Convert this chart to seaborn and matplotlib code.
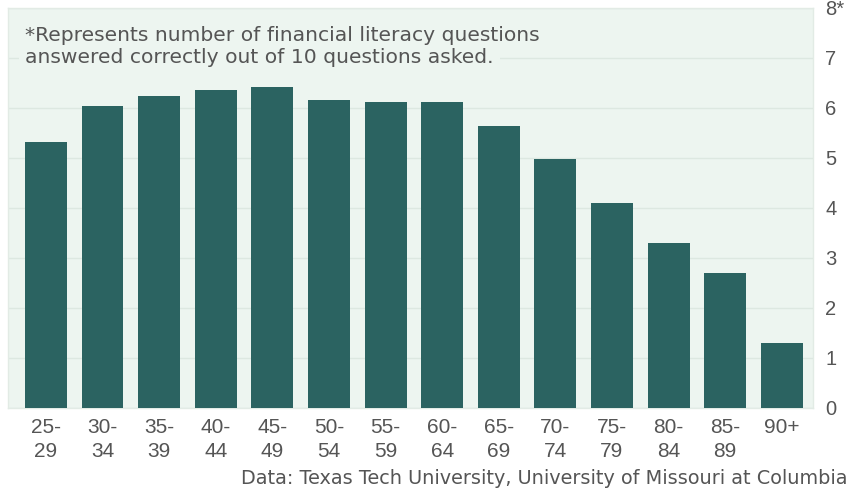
import matplotlib
matplotlib.use('Agg')
import matplotlib.pyplot as plt
import seaborn as sns
import pandas as pd

sns.set_style('white')
plt.rcParams['font.family'] = ['DejaVu Sans']

age_groups = ['25-\n29', '30-\n34', '35-\n39', '40-\n44', '45-\n49', '50-\n54', '55-\n59',
              '60-\n64', '65-\n69', '70-\n74', '75-\n79', '80-\n84', '85-\n89', '90+']
scores = [5.32, 6.04, 6.24, 6.36, 6.42, 6.16, 6.12, 6.12, 5.64, 4.98, 4.1, 3.3, 2.7, 1.3]
y_ticks = [0, 1, 2, 3, 4, 5, 6, 7, 8]
y_labels = ['0', '1', '2', '3', '4', '5', '6', '7', '8*']
note_lines = ['*Represents number of financial literacy questions',
              'answered correctly out of 10 questions asked.']

df = pd.DataFrame({'age': age_groups, 'score': scores})

BAR = '#2b6361'
PANEL = '#edf5f0'
GRID = '#dde8e1'
TXT = '#555555'

fig = plt.figure(figsize=(8.5, 4.88), dpi=100)
ax = fig.add_axes([0.0094, 0.164, 0.947, 0.8197])
ax.set_facecolor(PANEL)

sns.barplot(data=df, x='age', y='score', color=BAR, width=0.74, saturation=1,
            linewidth=0, ax=ax, zorder=3)

ax.set_ylim(0, 8)
ax.set_xlim(-0.67, 13.55)
ax.set_yticks(y_ticks)
ax.set_yticklabels(y_labels)
ax.yaxis.tick_right()
ax.grid(axis='y', color=GRID, linewidth=1, zorder=0)
ax.set_axisbelow(True)
ax.tick_params(axis='y', length=0, pad=9, labelsize=14.5, labelcolor=TXT)
ax.tick_params(axis='x', length=0, pad=7, labelsize=15, labelcolor=TXT)
for lab in ax.get_xticklabels() + ax.get_yticklabels():
    lab.set_family('Liberation Sans')
    lab.set_linespacing(1.38)
ax.set_xlabel('')
ax.set_ylabel('')
for s in ax.spines.values():
    s.set_color('#e2ebe5')
    s.set_linewidth(1)

# first line sits above the grid; second line masks the "7" gridline under itself
ax.text(17 / 805, (400 - 33) / 400, note_lines[0], transform=ax.transAxes,
        ha='left', va='baseline', fontsize=14.6, color=TXT, zorder=7)
ax.text(17 / 805, (400 - 55) / 400, note_lines[1], transform=ax.transAxes,
        ha='left', va='baseline', fontsize=14.6, color=TXT, zorder=6,
        bbox=dict(facecolor=PANEL, edgecolor='none', boxstyle='square,pad=0.3'))

fig.text(0.997, 1 - 478 / 488, 'Data: Texas Tech University, University of Missouri at Columbia',
         ha='right', va='center', fontsize=13.9, color=TXT)

fig.savefig('out.png', dpi=100)
